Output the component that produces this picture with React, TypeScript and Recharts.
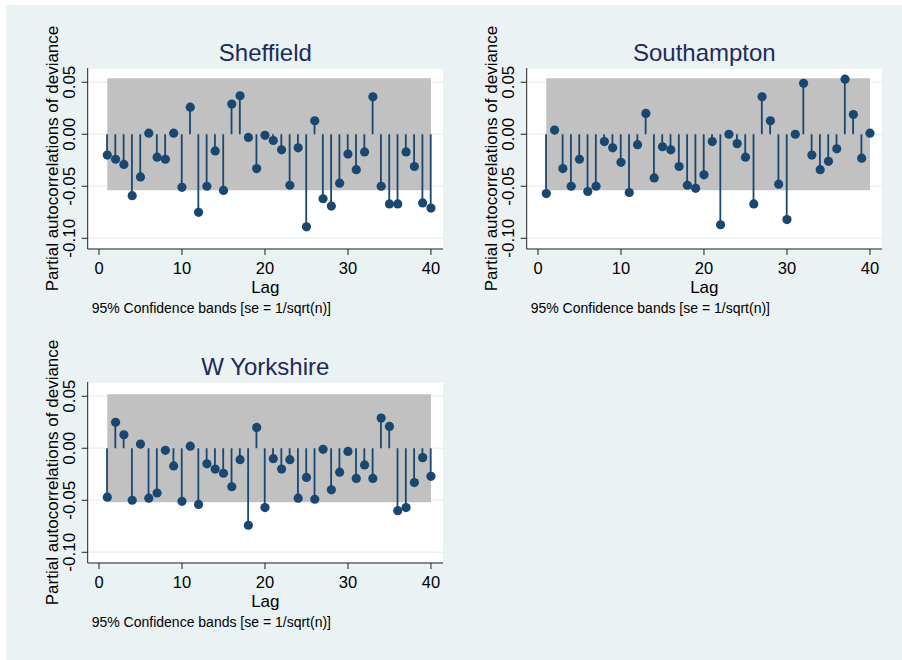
import React from 'react';
import { ComposedChart, Bar, Line, XAxis, YAxis, CartesianGrid, ReferenceArea } from 'recharts';

const lags = [1, 2, 3, 4, 5, 6, 7, 8, 9, 10, 11, 12, 13, 14, 15, 16, 17, 18, 19, 20,
  21, 22, 23, 24, 25, 26, 27, 28, 29, 30, 31, 32, 33, 34, 35, 36, 37, 38, 39, 40];

const sheffield = [-0.020, -0.024, -0.029, -0.059, -0.041, 0.001, -0.022, -0.024, 0.001, -0.051,
  0.026, -0.075, -0.050, -0.016, -0.054, 0.029, 0.037, -0.003, -0.033, -0.001,
  -0.006, -0.015, -0.049, -0.013, -0.089, 0.013, -0.062, -0.069, -0.047, -0.019,
  -0.034, -0.017, 0.036, -0.050, -0.067, -0.067, -0.017, -0.031, -0.066, -0.071];

const southampton = [-0.057, 0.004, -0.033, -0.050, -0.024, -0.055, -0.050, -0.007, -0.013, -0.027,
  -0.056, -0.010, 0.020, -0.042, -0.012, -0.015, -0.031, -0.049, -0.052, -0.039,
  -0.007, -0.087, 0.000, -0.009, -0.022, -0.067, 0.036, 0.013, -0.048, -0.082,
  0.000, 0.049, -0.020, -0.034, -0.026, -0.014, 0.053, 0.019, -0.023, 0.001];

const wYorkshire = [-0.047, 0.025, 0.013, -0.050, 0.004, -0.048, -0.043, -0.002, -0.017, -0.051,
  0.002, -0.054, -0.015, -0.020, -0.024, -0.037, -0.011, -0.074, 0.020, -0.057,
  -0.010, -0.020, -0.011, -0.048, -0.028, -0.049, -0.001, -0.040, -0.023, -0.003,
  -0.029, -0.016, -0.029, 0.029, 0.021, -0.060, -0.057, -0.033, -0.009, -0.027];

const xTicks = [0, 10, 20, 30, 40];
const yTicks = [-0.1, -0.05, 0, 0.05];

const NAVY = '#1a476f';
const BG = '#eaf2f3';
const BAND = '#c1c1c1';
const TITLE = '#1e2b58';
const FONT = '"Liberation Sans", Arial, sans-serif';

const YTick = (props: any) => {
  const { x, y, payload } = props;
  return (
    <text
      transform={`translate(${x - 6.5},${y}) rotate(-90)`}
      textAnchor="middle"
      fontSize={17}
      fill="#000"
      fontFamily={FONT}
    >
      {Number(payload.value).toFixed(2)}
    </text>
  );
};

interface PanelProps {
  title: string;
  values: number[];
  band: number;
  left: number;
  top: number;
}

const Panel: React.FC<PanelProps> = ({ title, values, band, left, top }) => {
  const data = lags.map((lag, i) => ({ lag, pac: values[i] }));
  return (
    <div style={{ position: 'absolute', left, top, width: 420, height: 300 }}>
      <ComposedChart width={420} height={300} data={data} margin={{ top: 48, right: 7, bottom: 21, left: 0 }}>
        <CartesianGrid vertical={false} horizontal stroke={BG} strokeWidth={1.5} fill="#ffffff" />
        <XAxis
          type="number"
          dataKey="lag"
          domain={[-1.36, 41.45]}
          ticks={xTicks}
          allowDataOverflow
          height={50}
          tickSize={6}
          tickMargin={7}
          stroke="#222"
          tick={{ fontSize: 16.5, fill: '#000', fontFamily: FONT }}
          label={{ value: 'Lag', position: 'insideBottom', offset: 6, fill: '#000', fontSize: 17, fontFamily: FONT }}
        />
        <YAxis
          type="number"
          domain={[-0.1103, 0.0637]}
          ticks={yTicks}
          allowDataOverflow
          width={57.7}
          tickSize={6}
          tickMargin={0}
          stroke="#222"
          tick={<YTick />}
          label={{
            value: 'Partial autocorrelations of deviance',
            angle: -90,
            position: 'insideLeft',
            offset: 21.7,
            fill: '#000',
            fontSize: 17,
            fontFamily: FONT,
            style: { textAnchor: 'middle' },
          }}
        />
        <ReferenceArea x1={1} x2={40} y1={-band} y2={band} fill={BAND} fillOpacity={1} stroke="none" />
        <Bar dataKey="pac" barSize={1.8} fill={NAVY} isAnimationActive={false} />
        <Line
          dataKey="pac"
          stroke="none"
          dot={{ r: 4.6, fill: NAVY, stroke: NAVY, strokeWidth: 0 }}
          activeDot={false}
          isAnimationActive={false}
        />
      </ComposedChart>
      <div
        style={{
          position: 'absolute', left: 57.7, top: 20.5, width: 355.3, textAlign: 'center',
          fontSize: 24, lineHeight: '24px', color: TITLE, fontFamily: FONT,
        }}
      >
        {title}
      </div>
      <div
        style={{
          position: 'absolute', left: 61.7, top: 280.5, fontSize: 14, lineHeight: '14px',
          color: '#000', fontFamily: FONT, whiteSpace: 'nowrap',
        }}
      >
        95% Confidence bands [se = 1/sqrt(n)]
      </div>
    </div>
  );
};

export default function App() {
  return (
    <div style={{ position: 'absolute', left: 0, top: 0, width: 902, height: 660, background: '#fff', fontFamily: FONT }}>
      <div style={{ position: 'absolute', left: 6, top: 5, right: 0, bottom: 0, background: BG }} />
      <Panel title="Sheffield" values={sheffield} band={0.0538} left={30} top={20} />
      <Panel title="Southampton" values={southampton} band={0.0538} left={469} top={20} />
      <Panel title="W Yorkshire" values={wYorkshire} band={0.052} left={30} top={334} />
    </div>
  );
}
